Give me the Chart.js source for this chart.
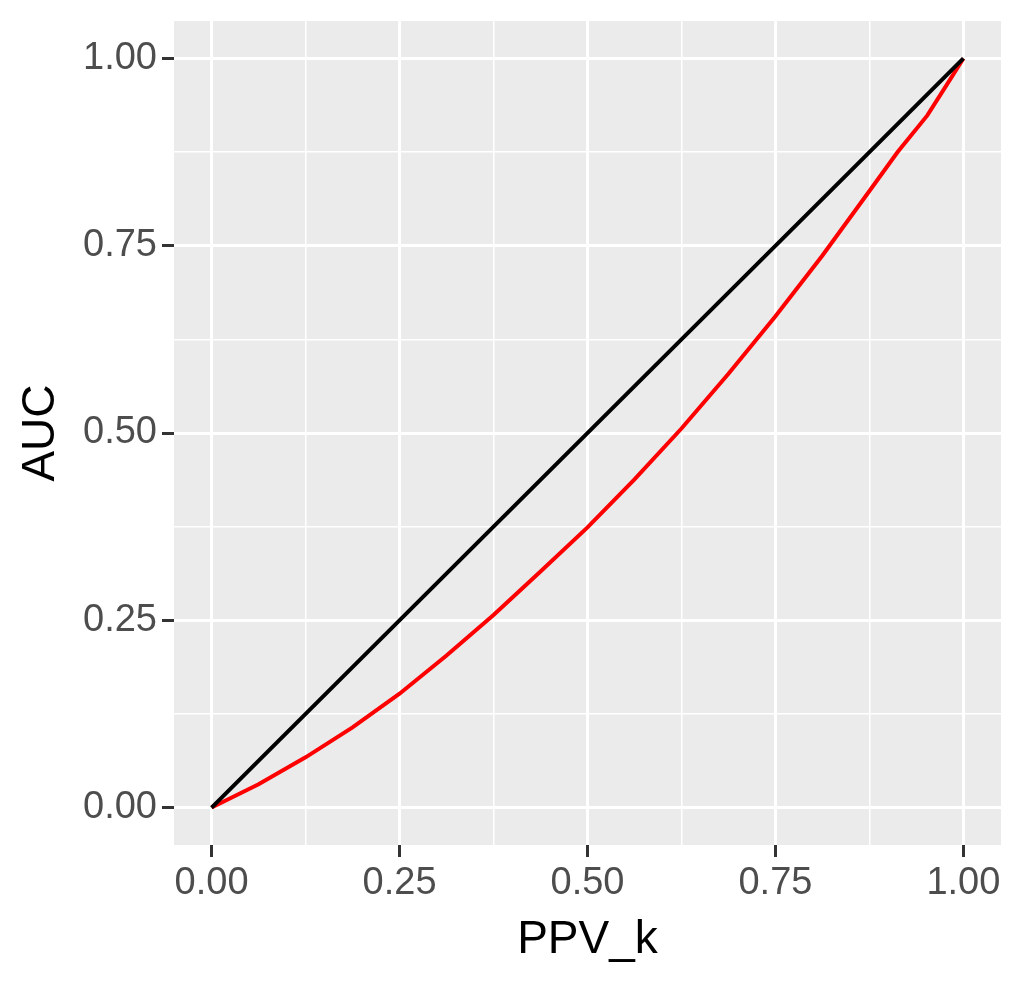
<!DOCTYPE html>
<html>
<head>
<meta charset="utf-8">
<title>AUC vs PPV_k</title>
<script src="https://cdn.jsdelivr.net/npm/chart.js@4"></script>
<style>
  html, body { margin: 0; padding: 0; background: #ffffff; }
  #wrap { width: 1024px; height: 984px; }
</style>
</head>
<body>
<div id="wrap"><canvas id="chart" width="1024" height="984"></canvas></div>
<script>
// values
const ppvK   = [0, 0.0625, 0.125, 0.1875, 0.25, 0.3125, 0.375, 0.4375, 0.5, 0.5625, 0.625, 0.6875, 0.75, 0.8125, 0.875, 0.9125, 0.952, 0.978, 1];
const aucRed = [0, 0.031, 0.067, 0.107, 0.152, 0.203, 0.257, 0.315, 0.374, 0.438, 0.506, 0.579, 0.656, 0.737, 0.823, 0.875, 0.924, 0.965, 1];

// the black reference line (y = x), with its small kinks
const blackX = [0, 0.06, 0.33, 0.6, 0.87, 1];
const blackY = [0, 0.06, 0.33, 0.6, 0.87, 1];

// axis ticks
const majorTicks = [0, 0.25, 0.5, 0.75, 1];
const tickLabels = ['0.00', '0.25', '0.50', '0.75', '1.00'];
const gridTicks  = [0, 0.125, 0.25, 0.375, 0.5, 0.625, 0.75, 0.875, 1];

const FONT = '"Liberation Sans", Arial, sans-serif';

const isMajor = v => majorTicks.indexOf(v) >= 0;

function toPoints(xs, ys) {
  return xs.map((x, i) => ({ x: x, y: ys[i] }));
}

// grey panel like ggplot's theme_grey
const panelBg = {
  id: 'panelBg',
  beforeDraw(chart) {
    const a = chart.chartArea;
    const ctx = chart.ctx;
    ctx.save();
    ctx.fillStyle = '#EBEBEB';
    ctx.fillRect(a.left, a.top, a.right - a.left, a.bottom - a.top);
    ctx.restore();
  }
};

function axis(title, titlePad, labelPad, fitFn) {
  return {
    type: 'linear',
    min: -0.05,
    max: 1.05,
    afterBuildTicks: s => { s.ticks = gridTicks.map(v => ({ value: v })); },
    afterFit: fitFn,
    ticks: {
      autoSkip: false,
      maxRotation: 0,
      color: '#4D4D4D',
      padding: labelPad,
      font: { family: FONT, size: 38 },
      callback: v => {
        const i = majorTicks.indexOf(v);
        return i < 0 ? '' : tickLabels[i];
      }
    },
    grid: {
      color: '#FFFFFF',
      lineWidth: ctx => isMajor(ctx.tick.value) ? 3 : 1.5,
      drawTicks: true,
      tickLength: 12,
      tickWidth: 3,
      tickColor: ctx => isMajor(ctx.tick.value) ? '#333333' : 'rgba(0,0,0,0)'
    },
    border: { display: false },
    title: {
      display: true,
      text: title,
      color: '#000000',
      font: { family: FONT, size: 46 },
      padding: titlePad
    }
  };
}

new Chart(document.getElementById('chart'), {
  type: 'scatter',
  data: {
    datasets: [
      {
        label: 'reference',
        data: toPoints(blackX, blackY),
        showLine: true,
        borderColor: '#000000',
        borderWidth: 4,
        pointRadius: 0,
        tension: 0
      },
      {
        label: 'AUC',
        data: toPoints(ppvK, aucRed),
        showLine: true,
        borderColor: '#FF0000',
        borderWidth: 4,
        pointRadius: 0,
        tension: 0
      }
    ]
  },
  options: {
    responsive: false,
    animation: false,
    layout: { padding: { left: 0, right: 23, top: 21, bottom: 0 } },
    plugins: {
      legend: { display: false },
      tooltip: { enabled: false }
    },
    scales: {
      x: axis('PPV_k', { top: 0, bottom: 16 }, 4, s => {
        s.height = 139; s.paddingLeft = 0; s.paddingRight = 0;
      }),
      y: axis('AUC', { top: 14, bottom: 0 }, 5, s => {
        s.width = 174; s.paddingTop = 0; s.paddingBottom = 0;
      })
    }
  },
  plugins: [panelBg]
});
</script>
</body>
</html>
